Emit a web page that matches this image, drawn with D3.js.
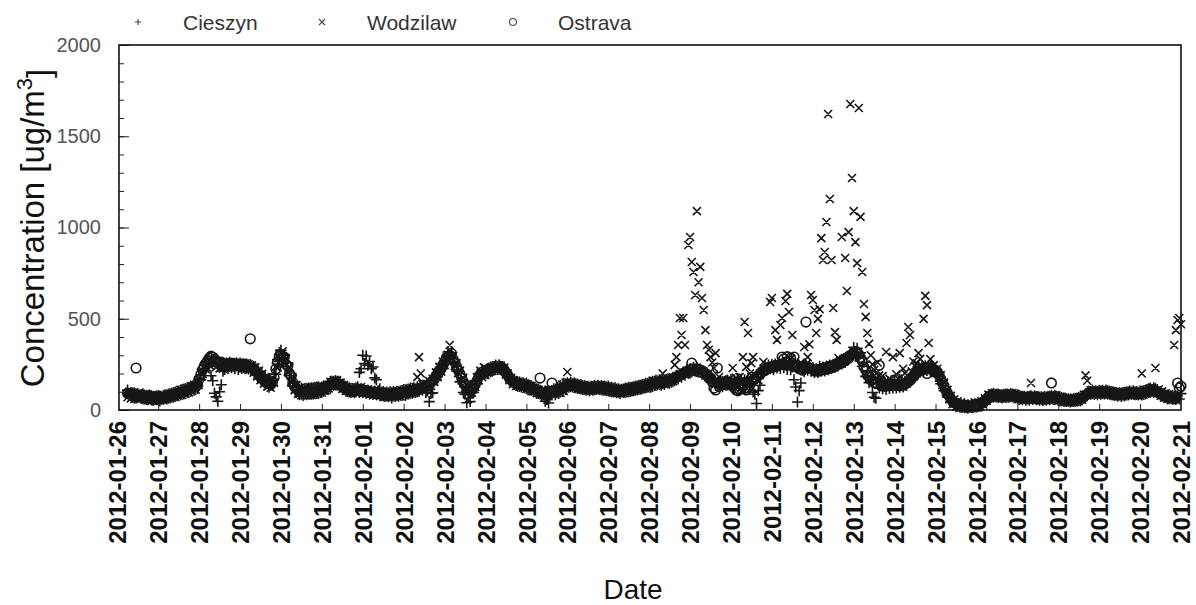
<!DOCTYPE html>
<html><head><meta charset="utf-8">
<script src="https://cdn.jsdelivr.net/npm/d3@7"></script>
<style>body{margin:0;background:#fff;} svg{display:block;} text{font-family:Arial,"Liberation Sans",sans-serif;}</style>
</head><body><svg id="c" width="1196" height="605"></svg>
<script>
// ---------------- DATA ----------------
const seriesNames = ["Cieszyn", "Wodzilaw", "Ostrava"];
const dayLabels = ["2012-01-26","2012-01-27","2012-01-28","2012-01-29","2012-01-30","2012-01-31","2012-02-01","2012-02-02","2012-02-03","2012-02-04","2012-02-05","2012-02-06","2012-02-07","2012-02-08","2012-02-09","2012-02-10","2012-02-11","2012-02-12","2012-02-13","2012-02-14","2012-02-15","2012-02-16","2012-02-17","2012-02-18","2012-02-19","2012-02-20","2012-02-21"];
const firstHour = 6; // first hourly sample: 2012-01-26 06:00
const yTicks = [0, 500, 1000, 1500, 2000];
// hourly values, one row per day (first row starts at 06:00)
const cieszyn = [
[110,82,96,70,95,66,90,72,84,60,82,58,80,62,78,52,74,56],
[78,50,72,58,84,60,88,66,92,70,98,78,104,82,112,88,118,96,124,102,132,108,140,118],
[175,165,225,215,262,238,240,188,160,92,72,48,100,138,212,222,258,228,262,232,256,226,258,222],
[258,228,254,226,252,224,250,218,240,196,226,176,206,158,186,138,170,124,160,134,196,196,276,266],
[328,286,300,240,258,188,200,130,150,96,128,84,120,80,118,84,120,86,122,88,124,90,128,94],
[126,102,132,112,146,116,158,136,162,136,158,126,142,112,130,102,122,96,118,94,120,128,206,226],
[300,255,296,245,266,226,236,176,166,106,116,78,101,74,98,72,100,66,102,74,102,76,104,80],
[112,80,114,88,120,92,122,96,128,102,132,108,136,96,106,46,91,94,176,166,221,196,251,226],
[271,266,318,292,313,254,266,214,216,154,156,96,86,40,66,46,96,96,158,144,198,174,223,200],
[218,198,230,210,238,218,246,222,248,220,238,210,214,180,186,154,168,140,158,130,154,126,150,122],
[148,110,136,108,126,100,116,90,108,82,96,48,58,38,84,82,116,84,124,90,134,102,146,112],
[150,124,152,126,148,122,142,118,140,112,134,108,130,104,130,108,134,112,136,112,134,108,132,106],
[132,102,124,98,122,94,116,90,114,96,120,98,124,102,126,106,132,110,136,114,140,120,146,124],
[154,124,158,134,164,138,166,136,162,140,168,148,172,152,180,162,190,170,198,180,208,190,220,200],
[228,208,234,214,233,208,226,196,214,188,201,170,181,150,161,134,151,128,154,128,156,136,164,140],
[168,140,166,146,174,150,170,146,166,148,176,138,156,98,86,36,106,136,216,198,241,218,246,226],
[250,220,252,230,256,228,250,232,256,222,254,220,236,166,126,44,106,148,231,210,238,218,236,212],
[233,205,226,206,240,212,236,214,241,220,246,228,251,234,261,242,273,252,280,262,290,276,314,300],
[343,295,338,284,313,240,261,184,216,150,166,96,70,64,146,120,156,116,156,112,156,118,160,120],
[153,120,148,124,152,126,158,134,168,152,188,172,208,192,226,208,236,212,242,216,244,214,238,210],
[228,186,201,144,163,106,116,70,86,42,60,28,40,20,34,14,26,12,24,10,23,14,28,16],
[32,18,38,20,52,44,74,58,86,70,92,72,88,68,84,66,86,68,88,70,90,72,86,66],
[84,58,76,56,76,54,74,54,78,58,78,56,74,54,72,52,74,54,76,56,80,58,80,60],
[74,50,68,48,66,46,62,44,60,46,64,48,68,50,76,64,90,78,104,86,110,86,106,84],
[108,86,108,88,110,88,104,84,100,80,96,76,94,74,96,78,100,82,104,86,106,84,102,82],
[104,82,106,88,112,96,120,102,122,100,112,88,100,76,90,68,82,62,78,58,76,58,78,60],
[90]
];
const wodzilaw = [
[70,100,64,92,60,88,58,96,62,86,56,90,54,82,50,84,48,80],
[52,78,56,84,58,86,64,90,68,96,72,102,78,110,82,116,90,122,96,130,104,138,112,146],
[150,205,196,240,222,264,246,284,250,272,234,258,228,256,226,254,232,258,236,262,234,258,232,256],
[234,258,228,254,226,250,222,244,204,234,184,216,164,198,144,180,128,164,122,172,150,238,232,306],
[272,322,252,282,210,232,154,172,108,138,88,122,80,118,80,122,80,124,82,126,84,128,90,132],
[96,128,106,140,118,154,132,164,136,162,130,150,116,136,104,126,96,120,92,118,94,124,98,126],
[90,116,88,114,84,110,80,106,78,104,76,102,72,100,70,98,70,100,72,102,74,104,76,108],
[80,114,86,118,90,122,94,126,180,290,200,141,112,144,120,158,132,171,154,206,180,236,210,266],
[247,286,302,356,282,296,242,256,202,216,162,176,122,141,97,124,94,141,127,181,162,216,180,234],
[192,224,206,234,214,242,222,246,224,244,216,232,194,201,164,176,142,162,132,154,126,150,122,146],
[116,140,110,132,102,122,92,112,84,106,80,108,82,112,88,114,86,114,92,122,94,140,104,150],
[208,150,126,150,122,144,116,140,112,136,108,132,106,130,104,132,108,136,112,136,108,132,104,130],
[102,126,98,122,94,118,92,116,90,118,94,122,98,126,102,130,106,134,110,138,114,142,118,148],
[122,152,128,160,134,164,138,166,200,166,140,170,148,178,158,247,290,356,504,411,504,356,195,904],
[948,811,756,630,1090,700,784,614,548,438,356,330,290,260,230,312,162,181,137,166,130,162,132,168],
[130,230,137,176,140,180,152,290,482,236,422,200,257,290,190,185,164,200,210,263,225,230,240,592],
[614,240,438,384,250,466,504,250,597,636,537,280,411,250,240,230,240,260,250,345,250,290,360,630],
[603,548,422,499,553,942,822,866,1030,1622,1156,822,559,427,384,285,260,948,270,833,652,975,1677,1271],
[1090,920,805,1655,1058,756,581,510,422,362,300,250,220,200,260,190,162,186,147,318,142,171,132,290],
[152,196,172,312,182,226,202,367,455,411,212,266,242,256,312,280,242,499,625,575,367,279,222,246],
[202,226,177,191,137,151,97,111,60,78,32,58,18,48,12,42,10,36,8,34,6,34,10,42],
[14,42,20,48,30,64,50,84,64,92,70,94,68,90,64,88,64,90,68,94,70,92,66,88],
[60,82,58,78,54,76,56,78,148,82,58,78,56,76,52,74,54,76,56,78,58,82,60,80],
[50,72,46,68,44,66,40,64,42,66,44,68,48,72,56,84,190,160,82,108,86,108,84,108],
[84,108,88,112,86,108,84,104,80,100,76,98,74,98,76,100,80,104,84,106,84,104,80,102],
[78,200,84,110,90,116,100,124,102,230,90,114,78,102,68,92,60,86,54,82,356,438,493,504],
[470]
];
const ostrava = [
[92,88,90,82,78,230,75,80,72,74,68,73,66,70,62,66,64,60],
[66,62,64,70,66,74,78,76,84,80,86,92,90,98,96,104,102,112,110,120,118,128,126,138],
[170,195,220,240,255,270,285,295,290,280,270,265,258,262,255,248,252,246,250,255,248,252,245,250],
[248,252,240,246,238,242,390,232,224,212,206,198,184,178,164,160,148,145,140,152,178,225,262,295],
[305,290,290,250,240,200,185,150,128,118,110,100,102,98,100,104,98,106,100,104,106,106,112,110],
[108,120,118,128,134,138,150,152,148,150,142,136,132,122,120,112,108,110,104,108,106,114,110,114],
[102,108,98,104,96,100,92,98,90,94,88,92,84,88,86,84,88,82,86,90,86,92,90,96],
[100,96,102,98,106,104,110,106,116,112,120,118,130,128,136,138,150,160,168,188,195,218,226,248],
[262,285,295,300,310,278,262,238,218,198,176,155,135,120,110,104,110,122,140,160,182,196,208,212],
[206,214,220,220,228,232,232,236,236,230,230,220,204,192,174,166,154,150,148,140,142,136,138,132],
[128,132,120,124,112,108,108,96,175,98,94,96,94,104,98,148,96,106,102,114,112,122,120,132],
[138,136,142,136,138,130,132,126,128,122,124,120,118,120,116,118,124,122,126,122,120,122,116,120],
[116,116,110,112,106,108,104,106,102,104,110,108,114,112,118,116,122,120,126,124,130,128,134,134],
[138,144,144,146,152,150,152,146,152,150,156,156,162,164,172,174,182,184,192,194,202,204,212,210],
[220,257,225,215,225,210,220,205,210,195,195,175,175,155,120,110,230,132,140,138,146,144,152,150],
[140,130,120,110,105,112,120,128,118,110,122,135,150,165,170,176,188,196,206,214,218,226,234,230],
[238,236,244,240,246,250,290,280,262,292,270,285,255,290,240,235,226,222,218,228,482,236,230,228],
[222,214,220,212,224,218,230,222,234,226,240,232,244,238,254,250,264,258,274,270,286,284,300,305],
[310,320,315,305,285,270,235,220,190,185,165,165,150,148,145,245,132,138,130,136,132,138,134,142],
[140,134,138,132,138,136,144,146,158,162,178,182,198,202,215,215,225,222,232,200,230,224,228,218],
[218,208,192,172,150,132,108,92,76,60,48,40,38,30,28,26,22,22,20,20,18,22,22,28],
[26,30,30,36,40,52,58,72,76,80,82,80,80,78,76,76,76,78,80,82,82,80,78,76],
[72,70,70,66,66,64,66,64,70,68,70,64,66,62,64,60,64,62,66,64,148,68,72,66],
[62,62,58,58,56,54,52,52,54,54,56,58,60,62,66,72,82,86,94,94,98,96,96,94],
[96,96,98,100,98,96,94,90,92,88,86,86,84,84,86,88,90,92,94,94,94,92,90,90],
[90,94,96,98,102,104,112,110,112,104,102,94,92,84,82,74,74,68,70,64,66,64,148,120],
[130]
];
// ---------------- CHART ----------------
const svg = d3.select("#c");
const L = 119, R = 1181, T = 45, B = 410;
const parseDay = d3.utcParse("%Y-%m-%d");
const days = dayLabels.map(parseDay);
const x = d3.scaleUtc()
  .domain([d3.utcHour.offset(days[0], 1), days[days.length - 1]])
  .range([L, R]);
const y = d3.scaleLinear().domain([0, 2000]).range([B, T]);

function points(rows) {
  const out = [];
  rows.forEach((row, d) => {
    const start = d3.utcHour.offset(days[d], d === 0 ? firstHour : 0);
    row.forEach((v, i) => out.push([d3.utcHour.offset(start, i), v]));
  });
  return out;
}
const shapes = {
  plus: (px, py, s) => `M${px - s},${py}H${px + s}M${px},${py - s}V${py + s}`,
  cross: (px, py, s) => `M${px - s},${py - s}L${px + s},${py + s}M${px - s},${py + s}L${px + s},${py - s}`,
  circle: (px, py, s) => `M${px - s},${py}a${s},${s} 0 1,0 ${2 * s},0a${s},${s} 0 1,0 ${-2 * s},0`
};
const series = [
  {name: seriesNames[0], data: cieszyn, shape: "plus", size: 5.5},
  {name: seriesNames[1], data: wodzilaw, shape: "cross", size: 4},
  {name: seriesNames[2], data: ostrava, shape: "circle", size: 4.8}
];

const plot = svg.append("g");
series.forEach(s => {
  const d = points(s.data).map(p => shapes[s.shape](x(p[0]), y(p[1]), s.size)).join("");
  plot.append("path").attr("d", d).attr("fill", "none")
    .attr("stroke", "#161616").attr("stroke-width", 1.6);
});

// Y axis
const yMinor = d3.range(0, 2001, 100);
svg.append("g").attr("transform", `translate(${L},0)`)
  .call(d3.axisLeft(y).tickValues(yMinor).tickSize(-5).tickFormat(""))
  .call(g => g.select(".domain").remove())
  .call(g => g.selectAll("line").attr("stroke", "#222"));
svg.append("g").attr("transform", `translate(${L},0)`)
  .call(d3.axisLeft(y).tickValues(yTicks).tickSize(-10).tickPadding(18).tickFormat(d3.format("d")))
  .call(g => g.select(".domain").remove())
  .call(g => g.selectAll("line").attr("stroke", "#222"))
  .call(g => g.selectAll("text").attr("font-size", 20).attr("fill", "#555")
     .attr("font-family", "Arial, 'Liberation Sans', sans-serif"));

// X axis
const xa = svg.append("g").attr("transform", `translate(0,${B})`)
  .call(d3.axisBottom(x).tickValues(days).tickSize(-6).tickFormat(d3.utcFormat("%Y-%m-%d")));
xa.select(".domain").remove();
xa.selectAll(".tick line").attr("stroke", "#222")
  .attr("display", d => (x(d) < L + 1 || x(d) > R - 1) ? "none" : null);
xa.selectAll(".tick text")
  .attr("transform", "rotate(-90)").attr("x", -11).attr("y", 0).attr("dy", "0.36em")
  .attr("text-anchor", "end").attr("font-size", 24).attr("font-weight", "bold")
  .attr("fill", "#111").attr("font-family", "Arial, 'Liberation Sans', sans-serif");

// frame
svg.append("rect").attr("x", L).attr("y", T).attr("width", R - L).attr("height", B - T)
  .attr("fill", "none").attr("stroke", "#111").attr("stroke-width", 1.6);

// titles
const yt = svg.append("text").attr("transform", `translate(44,228) rotate(-90)`)
  .attr("text-anchor", "middle").attr("font-size", 33).attr("fill", "#111");
yt.append("tspan").text("Concentration [ug/m");
yt.append("tspan").attr("dy", "-0.55em").attr("font-size", 22).text("3");
yt.append("tspan").attr("dy", "0.55em").text("]");
svg.append("text").attr("x", 633).attr("y", 599).attr("text-anchor", "middle")
  .attr("font-size", 28).attr("fill", "#111").text("Date");

// legend
const legX = [138, 322, 513], legTX = [183, 367, 558];
series.forEach((s, i) => {
  svg.append("path").attr("d", shapes[s.shape](legX[i], 22, s.shape === "circle" ? 3.5 : 3))
    .attr("fill", "none").attr("stroke", "#444").attr("stroke-width", 1.1);
  svg.append("text").attr("x", legTX[i]).attr("y", 29.5).attr("font-size", 21)
    .attr("fill", "#333").text(s.name);
});
</script></body></html>
